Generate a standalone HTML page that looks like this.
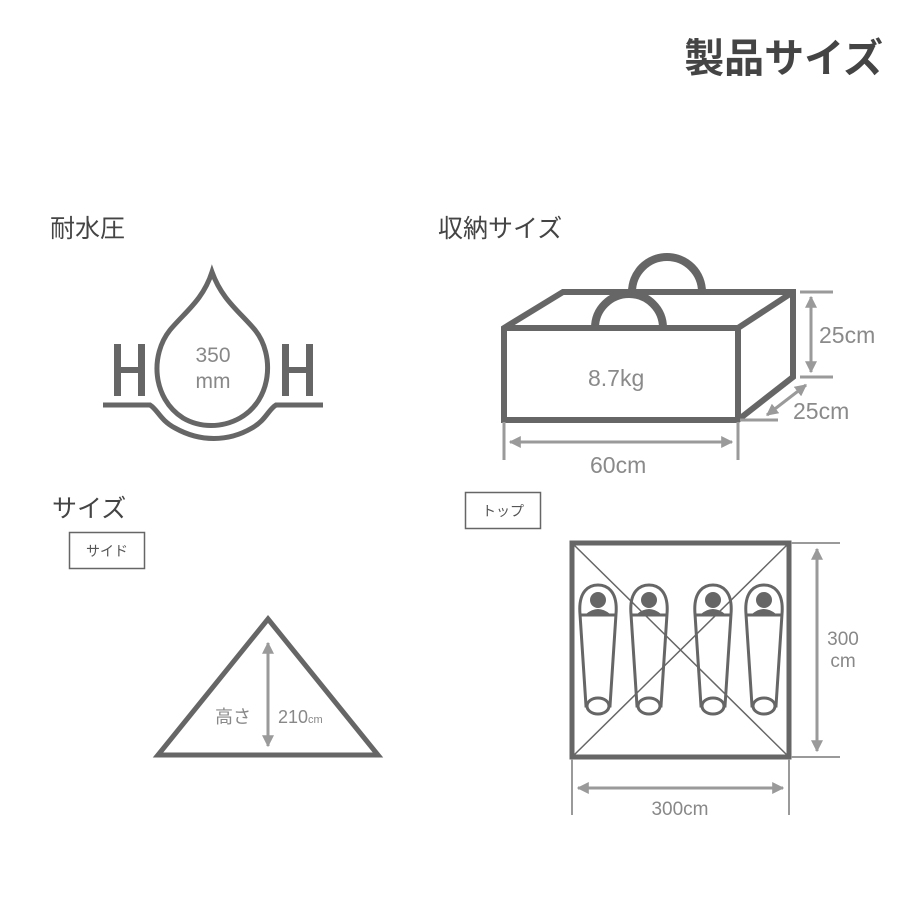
<!DOCTYPE html>
<html><head><meta charset="utf-8"><style>
body{margin:0;width:900px;height:900px;background:#fff;overflow:hidden}
svg{display:block}
text{font-family:"Liberation Sans","Noto Sans CJK JP",sans-serif}
</style></head><body>
<svg width="900" height="900" viewBox="0 0 900 900">
<defs>
<marker id="a" viewBox="0 0 10 10" refX="9" refY="5" markerWidth="4" markerHeight="4" orient="auto-start-reverse"><path d="M0,0L10,5L0,10z" fill="#9a9a9a"/></marker>
</defs>
<g fill="#444">
<text x="883" y="72" font-size="40" text-anchor="end" font-weight="bold">製品サイズ</text>
<text x="50" y="237" font-size="25">耐水圧</text>
<text x="438" y="237" font-size="25">収納サイズ</text>
<text x="52" y="517" font-size="25">サイズ</text>
</g>
<!-- water -->
<g stroke="#666" stroke-width="5" fill="none">
<path d="M212,272 C222,300 240,312 255,330 C275,355 272,400 240,418 C222,428 200,428 183,418 C152,398 150,355 170,330 C185,312 203,300 212,272Z"/>
<path d="M103,405 H150 C158,410 160,420 175,428 C200,442 228,442 252,428 C266,420 268,410 276,405 H323"/>
</g>
<g fill="#666">
<rect x="114" y="344" width="7" height="52"/><rect x="138" y="344" width="7" height="52"/><rect x="114" y="367" width="30" height="6"/>
<rect x="282" y="344" width="7" height="52"/><rect x="306" y="344" width="7" height="52"/><rect x="282" y="367" width="30" height="6"/>
</g>
<g fill="#888" font-size="21" text-anchor="middle"><text x="213" y="362">350</text><text x="213" y="388">mm</text></g>
<!-- bag -->
<g stroke="#666" fill="none">
<path d="M632,292 A35,35 0 0 1 702,292" stroke-width="8"/>
<path d="M595,328 A34,34 0 0 1 663,328" stroke-width="8"/>
<path d="M504,328 L563,292 H793 V377 L738,420 H504 Z M504,328 H738 V420 M738,328 L793,292" stroke-width="6"/>
</g>
<g stroke="#9a9a9a" stroke-width="3" fill="none">
<path d="M800,292 H833 M800,377 H833 M504,422 V460 M738,422 V460 M740,420 H778"/>
<path d="M811,297 V372" marker-start="url(#a)" marker-end="url(#a)"/>
<path d="M767,415 L806,385" marker-start="url(#a)" marker-end="url(#a)"/>
<path d="M510,442 H732" marker-start="url(#a)" marker-end="url(#a)"/>
</g>
<g fill="#8a8a8a" font-size="23"><text x="588" y="386">8.7kg</text><text x="819" y="343">25cm</text><text x="793" y="419">25cm</text><text x="590" y="473">60cm</text></g>
<!-- side -->
<rect x="69.5" y="532.5" width="75" height="36" fill="none" stroke="#666" stroke-width="1.5"/>
<text x="107" y="556" font-size="14" text-anchor="middle" fill="#555">サイド</text>
<rect x="465.5" y="492.5" width="75" height="36" fill="none" stroke="#666" stroke-width="1.5"/>
<text x="503" y="516" font-size="14" text-anchor="middle" fill="#555">トップ</text>
<path d="M268,619 L378,755 H158 Z" fill="none" stroke="#666" stroke-width="5"/>
<path d="M268,643 V746" stroke="#9a9a9a" stroke-width="3" marker-start="url(#a)" marker-end="url(#a)"/>
<text x="233" y="723" font-size="18" text-anchor="middle" fill="#888">高さ</text>
<text x="278" y="723" font-size="18" fill="#888">210<tspan font-size="11">cm</tspan></text>
<!-- top -->
<g stroke="#666" fill="none">
<path d="M572,543 L789,757 M789,543 L572,757" stroke-width="1.5"/>
<rect x="572" y="543" width="217" height="214" stroke-width="5"/>
</g>
<g stroke="#9a9a9a" stroke-width="2" fill="none">
<path d="M791,543 H840 M791,757 H840 M572,759 V815 M789,759 V815"/>
<path d="M817,549 V751" stroke-width="3" marker-start="url(#a)" marker-end="url(#a)"/>
<path d="M578,788 H783" stroke-width="3" marker-start="url(#a)" marker-end="url(#a)"/>
</g>
<g fill="#888" font-size="19" text-anchor="middle"><text x="843" y="645">300</text><text x="843" y="667">cm</text><text x="680" y="815">300cm</text></g>
<g id="s" stroke="#666" stroke-width="3" fill="none">
<path d="M580,614 C578,590 590,585 598,585 C606,585 618,590 616,614 L610,706 L586,706 Z"/>
<ellipse cx="598" cy="706" rx="11" ry="8" fill="#fff"/>
<line x1="581" y1="615" x2="615" y2="615"/>
</g>
<g fill="#666"><circle cx="598" cy="600" r="8"/><path d="M586,614 Q598,604 610,614Z"/></g>
<use href="#s" x="51"/><use href="#s" x="115"/><use href="#s" x="166"/>
<g fill="#666"><circle cx="649" cy="600" r="8"/><circle cx="713" cy="600" r="8"/><circle cx="764" cy="600" r="8"/>
<path d="M637,614 Q649,604 661,614Z M701,614 Q713,604 725,614Z M752,614 Q764,604 776,614Z"/></g>
</svg>
</body></html>
